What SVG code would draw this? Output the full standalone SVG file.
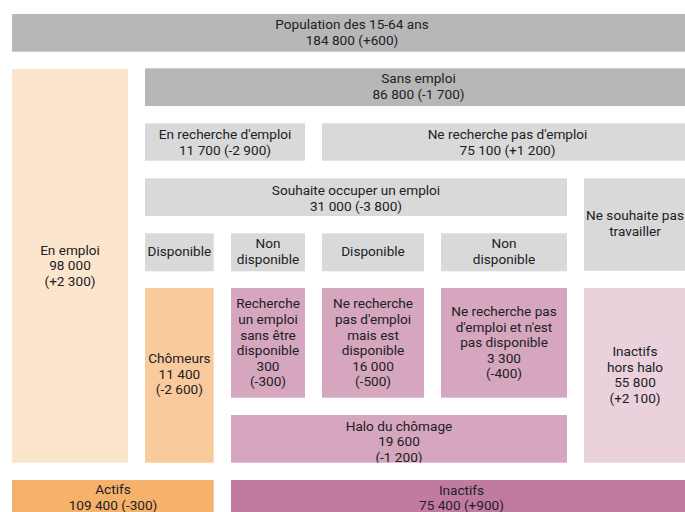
<svg xmlns="http://www.w3.org/2000/svg" width="685" height="512" viewBox="0 0 685 512">
<style>
.t{font-family:Roboto,"Liberation Sans",sans-serif;font-size:13.6px;fill:#202124;text-anchor:middle}
.g1{fill:#b7b7b7}.g2{fill:#d9d9d9}
.o1{fill:#fce5cd}.o2{fill:#f9cb9c}.o3{fill:#f6b26b}
.p1{fill:#ead1dc}.p2{fill:#d5a6bd}.p3{fill:#c27ba0}
</style>
<defs>
<clipPath id="clipHalo"><rect x="231" y="415" width="336" height="47.7"/></clipPath>
</defs>
<rect width="685" height="512" fill="#ffffff"/>
<g id="population">
<rect class="g1" x="12" y="14" width="680" height="37.7"/>
<text class="t"><tspan x="352" y="29.3">Population des 15-64 ans</tspan><tspan x="352" y="45">184 800 (+600)</tspan></text>
</g>
<g id="en-emploi">
<rect class="o1" x="12" y="69" width="116" height="393.7"/>
<text class="t"><tspan x="70" y="255">En emploi</tspan><tspan x="70" y="270.4">98 000</tspan><tspan x="70" y="285.8">(+2 300)</tspan></text>
</g>
<g id="sans-emploi">
<rect class="g1" x="145" y="68.3" width="547" height="37.7"/>
<text class="t"><tspan x="418.5" y="83.3">Sans emploi</tspan><tspan x="418.5" y="99.2">86 800 (-1 700)</tspan></text>
</g>
<g id="en-recherche">
<rect class="g2" x="145" y="123.3" width="160" height="37.4"/>
<text class="t"><tspan x="225" y="139.3">En recherche d'emploi</tspan><tspan x="225" y="155">11 700 (-2 900)</tspan></text>
</g>
<g id="ne-recherche-pas">
<rect class="g2" x="322" y="123.3" width="370" height="37.4"/>
<text class="t"><tspan x="507.5" y="139.3">Ne recherche pas d'emploi</tspan><tspan x="507.5" y="155">75 100 (+1 200)</tspan></text>
</g>
<g id="souhaite">
<rect class="g2" x="145" y="178.3" width="422" height="37.7"/>
<text class="t"><tspan x="356" y="195">Souhaite occuper un emploi</tspan><tspan x="356" y="210.5">31 000 (-3 800)</tspan></text>
</g>
<g id="ne-souhaite-pas">
<rect class="g2" x="584" y="178.3" width="108" height="92.5"/>
<text class="t"><tspan x="635" y="220">Ne souhaite pas</tspan><tspan x="635" y="235.7">travailler</tspan></text>
</g>
<g id="disponible-1">
<rect class="g2" x="145" y="233.3" width="68.7" height="38"/>
<text class="t"><tspan x="179.4" y="256.3">Disponible</tspan></text>
</g>
<g id="non-disponible-1">
<rect class="g2" x="231" y="233.3" width="74" height="38"/>
<text class="t"><tspan x="268" y="248.3">Non</tspan><tspan x="268" y="263.6">disponible</tspan></text>
</g>
<g id="disponible-2">
<rect class="g2" x="322" y="233.3" width="102" height="38"/>
<text class="t"><tspan x="373" y="256.3">Disponible</tspan></text>
</g>
<g id="non-disponible-2">
<rect class="g2" x="441" y="233.3" width="126" height="38"/>
<text class="t"><tspan x="504" y="248.3">Non</tspan><tspan x="504" y="263.6">disponible</tspan></text>
</g>
<g id="chomeurs">
<rect class="o2" x="145" y="288" width="68.7" height="174.7"/>
<text class="t"><tspan x="179.4" y="363">Chômeurs</tspan><tspan x="179.4" y="378.6">11 400</tspan><tspan x="179.4" y="394.2">(-2 600)</tspan></text>
</g>
<g id="recherche-non-disponible">
<rect class="p2" x="231" y="288" width="74" height="109.7"/>
<text class="t"><tspan x="268" y="308.3">Recherche</tspan><tspan x="268" y="323.9">un emploi</tspan><tspan x="268" y="339.5">sans être</tspan><tspan x="268" y="355.1">disponible</tspan><tspan x="268" y="370.7">300</tspan><tspan x="268" y="386.3">(-300)</tspan></text>
</g>
<g id="ne-recherche-disponible">
<rect class="p2" x="322" y="288" width="102" height="109.7"/>
<text class="t"><tspan x="373" y="308.3">Ne recherche</tspan><tspan x="373" y="323.9">pas d'emploi</tspan><tspan x="373" y="339.5">mais est</tspan><tspan x="373" y="355.1">disponible</tspan><tspan x="373" y="370.7">16 000</tspan><tspan x="373" y="386.3">(-500)</tspan></text>
</g>
<g id="ne-recherche-non-disponible">
<rect class="p2" x="441" y="288" width="126" height="109.7"/>
<text class="t"><tspan x="504" y="316">Ne recherche pas</tspan><tspan x="504" y="331.6">d'emploi et n'est</tspan><tspan x="504" y="347.2">pas disponible</tspan><tspan x="504" y="362.8">3 300</tspan><tspan x="504" y="378.4">(-400)</tspan></text>
</g>
<g id="inactifs-hors-halo">
<rect class="p1" x="584" y="288" width="108" height="174.7"/>
<text class="t"><tspan x="635" y="356">Inactifs</tspan><tspan x="635" y="371.6">hors halo</tspan><tspan x="635" y="387.2">55 800</tspan><tspan x="635" y="402.8">(+2 100)</tspan></text>
</g>
<g id="halo">
<rect class="p2" x="231" y="415" width="336" height="47.7"/>
<text class="t" clip-path="url(#clipHalo)"><tspan x="399" y="430.8">Halo du chômage</tspan><tspan x="399" y="446.4">19 600</tspan><tspan x="399" y="462">(-1 200)</tspan></text>
</g>
<g id="actifs">
<rect class="o3" x="12" y="480" width="201.7" height="40"/>
<text class="t"><tspan x="113" y="494.3">Actifs</tspan><tspan x="113" y="509.5">109 400 (-300)</tspan></text>
</g>
<g id="inactifs">
<rect class="p3" x="231" y="480" width="461" height="40"/>
<text class="t"><tspan x="461.5" y="494.8">Inactifs</tspan><tspan x="461.5" y="510">75 400 (+900)</tspan></text>
</g>
<g id="connectors"/>
</svg>
